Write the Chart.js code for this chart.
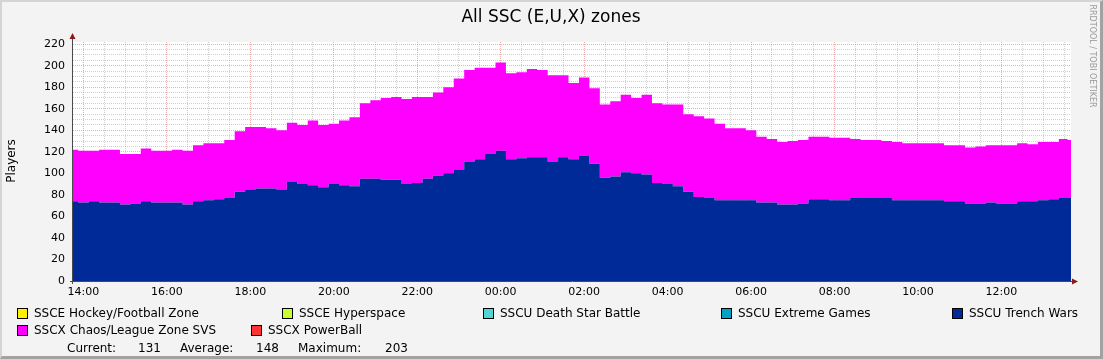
<!DOCTYPE html>
<html>
<head>
<meta charset="utf-8">
<script src="https://cdn.jsdelivr.net/npm/chart.js@4.4.1/dist/chart.umd.min.js"></script>
<style>
    html, body { margin: 0; padding: 0; background: #f3f3f3; }
    #frame { position: relative; width: 1103px; height: 359px; overflow: hidden;
             font-family: 'DejaVu Sans', sans-serif; color: #000; }
    #frame canvas { position: absolute; left: 0; top: 0; }
    #edge { position: absolute; left: 0; top: 0; width: 1103px; height: 359px; box-sizing: border-box;
            border-top: 2px solid #d4d4d4; border-left: 2px solid #d4d4d4;
            border-right: 3px solid #a2a2a2; border-bottom: 3px solid #a2a2a2; pointer-events: none; }
    .txt { position: absolute; white-space: nowrap; font-size: 12px; line-height: 14px; }
    .sw { position: absolute; width: 9px; height: 9px; border: 1px solid #000; }
</style>
</head>
<body>
<div id="frame">
    <canvas id="rrd-chart" width="1103" height="359"></canvas>
    <div class="txt" style="left:351px;width:400px;text-align:center;top:7px;font-size:17px;line-height:19px;">All SSC (E,U,X) zones</div>
    <div class="txt" style="left:-29px;width:80px;text-align:center;top:154px;transform:rotate(-90deg);">Players</div>
    <div class="txt" style="left:1032px;width:120px;text-align:center;top:51px;font-size:8px;line-height:10px;color:#9a9a9a;transform:rotate(90deg);">RRDTOOL / TOBI OETIKER</div>
    <div id="legend"></div>
    <div id="edge"></div>
</div>
<script>
(function(){
    /**
     * Sample times (15 minute steps, last one is the end of the graph).
     * @type {string[]}
     */
    var times = [
        '13:45',
        '14:00','14:15','14:30','14:45','15:00','15:15','15:30','15:45',
        '16:00','16:15','16:30','16:45','17:00','17:15','17:30','17:45',
        '18:00','18:15','18:30','18:45','19:00','19:15','19:30','19:45',
        '20:00','20:15','20:30','20:45','21:00','21:15','21:30','21:45',
        '22:00','22:15','22:30','22:45','23:00','23:15','23:30','23:45',
        '00:00','00:15','00:30','00:45','01:00','01:15','01:30','01:45',
        '02:00','02:15','02:30','02:45','03:00','03:15','03:30','03:45',
        '04:00','04:15','04:30','04:45','05:00','05:15','05:30','05:45',
        '06:00','06:15','06:30','06:45','07:00','07:15','07:30','07:45',
        '08:00','08:15','08:30','08:45','09:00','09:15','09:30','09:45',
        '10:00','10:15','10:30','10:45','11:00','11:15','11:30','11:45',
        '12:00','12:15','12:30','12:45','13:00','13:15','13:30','13:40'
    ];

    /**
     * Players in SSCU Trench Wars.
     * @type {number[]}
     */
    var trenchWars = [
        74,73,74,73,73,71,72,74,73,73,
        73,71,74,75,76,77,83,85,86,86,
        85,92,90,89,87,90,89,88,95,95,
        94,94,90,91,95,98,100,103,111,113,
        118,121,113,114,115,115,111,115,113,116,
        109,96,97,101,100,99,91,90,88,83,
        78,77,75,75,75,75,73,73,71,71,
        72,76,76,75,75,77,77,77,77,75,
        75,75,75,75,74,74,72,72,73,72,
        72,74,74,75,76,77,77
    ];

    /**
     * Players in SSCX Chaos/League Zone SVS (stacked on top of Trench Wars).
     * @type {number[]}
     */
    var chaosLeague = [
        48,48,47,49,49,47,46,49,48,48,
        49,50,52,53,52,54,56,58,57,56,
        55,55,55,60,58,56,60,64,70,73,
        76,77,79,80,76,77,80,85,85,85,
        80,82,80,80,82,81,80,76,71,73,
        70,68,70,72,70,74,74,74,76,72,
        75,74,71,67,67,65,61,59,58,59,
        59,58,58,58,58,55,54,54,53,54,
        53,53,53,53,52,52,52,53,53,54,
        54,54,53,54,53,55,54
    ];

    /**
     * Legend rows, in the order rrdtool prints them.
     */
    var legendNames = [
        ['SSCE Hockey/Football Zone', 'SSCE Hyperspace', 'SSCU Death Star Battle', 'SSCU Extreme Games', 'SSCU Trench Wars'],
        ['SSCX Chaos/League Zone SVS', 'SSCX PowerBall']
    ];
    var summaryLabels = ['Current:', 'Average:', 'Maximum:'];
    var summaryValues = [131, 148, 203];

    var colors = {
        'SSCE Hockey/Football Zone': '#fff000',
        'SSCE Hyperspace': '#c8ff32',
        'SSCU Death Star Battle': '#50d4d4',
        'SSCU Extreme Games': '#00a3c4',
        'SSCU Trench Wars': '#002a97',
        'SSCX Chaos/League Zone SVS': '#ff00ff',
        'SSCX PowerBall': '#ff3333'
    };

    // x positions of the legend columns, one list per row
    var legendX = [[17, 282, 483, 721, 952], [17, 251]];
    var legendY = [308, 325];

    /**
     * Convert "HH:MM" to hours after 14:00.
     */
    function toHours(t, i){
        var p = t.split(':');
        var h = parseInt(p[0], 10) + parseInt(p[1], 10) / 60 - 14;
        if (i > 0 && h < 0) h += 24;
        return h;
    }

    function points(values){
        return values.map(function(v, i){ return {x: toHours(times[i], i), y: v}; });
    }

    function isMultiple(v, step){
        return Math.abs(v / step - Math.round(v / step)) < 1e-6;
    }

    function pad(n){ return (n < 10 ? '0' : '') + n; }

    // html legend
    var legend = document.getElementById('legend');
    legendNames.forEach(function(row, r){
        row.forEach(function(name, c){
            var sw = document.createElement('div');
            sw.className = 'sw';
            sw.style.left = legendX[r][c] + 'px';
            sw.style.top = legendY[r] + 'px';
            sw.style.background = colors[name];
            legend.appendChild(sw);
            var tx = document.createElement('div');
            tx.className = 'txt';
            tx.style.left = (legendX[r][c] + 17) + 'px';
            tx.style.top = (legendY[r] - 2) + 'px';
            tx.textContent = name;
            legend.appendChild(tx);
        });
    });
    var sumLabelX = [67, 180, 298];
    var sumValueRight = [161, 279, 408];
    summaryLabels.forEach(function(label, i){
        var l = document.createElement('div');
        l.className = 'txt';
        l.style.left = sumLabelX[i] + 'px';
        l.style.top = '341px';
        l.textContent = label;
        legend.appendChild(l);
        var v = document.createElement('div');
        v.className = 'txt';
        v.style.left = (sumValueRight[i] - 60) + 'px';
        v.style.width = '60px';
        v.style.textAlign = 'right';
        v.style.top = '341px';
        v.textContent = summaryValues[i];
        legend.appendChild(v);
    });

    /**
     * White canvas behind the graph and the rrdtool style axes with arrows.
     */
    var rrdFrame = {
        id: 'rrdFrame',
        beforeDraw: function(chart){
            var a = chart.chartArea, ctx = chart.ctx;
            ctx.save();
            ctx.fillStyle = '#ffffff';
            ctx.fillRect(a.left, a.top, a.right - a.left, a.bottom - a.top);
            ctx.restore();
        },
        afterDraw: function(chart){
            var a = chart.chartArea, ctx = chart.ctx;
            ctx.save();
            ctx.strokeStyle = '#4a4a4a';
            ctx.lineWidth = 1;
            ctx.beginPath();
            ctx.moveTo(a.left - 0.5, a.bottom + 3);
            ctx.lineTo(a.left - 0.5, a.top - 4);
            ctx.moveTo(a.left - 3, a.bottom + 0.5);
            ctx.lineTo(a.right + 4, a.bottom + 0.5);
            ctx.stroke();
            ctx.fillStyle = '#8b1a1a';
            ctx.beginPath();
            ctx.moveTo(a.left - 3.5, a.top - 3);
            ctx.lineTo(a.left + 2.5, a.top - 3);
            ctx.lineTo(a.left - 0.5, a.top - 9);
            ctx.closePath();
            ctx.fill();
            ctx.beginPath();
            ctx.moveTo(a.right + 1, a.bottom - 2.5);
            ctx.lineTo(a.right + 1, a.bottom + 3.5);
            ctx.lineTo(a.right + 7, a.bottom + 0.5);
            ctx.closePath();
            ctx.fill();
            ctx.restore();
        }
    };

    var MAJOR = 'rgba(222, 110, 110, 0.55)';
    var MINOR = 'rgba(150, 150, 150, 0.45)';

    var ctx = document.getElementById('rrd-chart').getContext('2d');
    new Chart(ctx, {
        type: 'line',
        data: {
            datasets: [{
                label: 'SSCU Trench Wars',
                data: points(trenchWars),
                backgroundColor: colors['SSCU Trench Wars'],
                borderWidth: 0,
                pointRadius: 0,
                stepped: 'middle',
                fill: 'origin'
            }, {
                label: 'SSCX Chaos/League Zone SVS',
                data: points(chaosLeague),
                backgroundColor: colors['SSCX Chaos/League Zone SVS'],
                borderWidth: 0,
                pointRadius: 0,
                stepped: 'middle',
                fill: '-1'
            }]
        },
        options: {
            responsive: false,
            animation: false,
            devicePixelRatio: 1,
            layout: { padding: { top: 42, right: 32, bottom: 58, left: 0 } },
            plugins: { legend: { display: false }, tooltip: { enabled: false } },
            scales: {
                x: {
                    type: 'linear',
                    min: toHours(times[0], 0),
                    max: toHours(times[times.length - 1], times.length - 1),
                    afterFit: function(scale){ scale.height = 20; },
                    border: { display: false, dash: [1, 1] },
                    grid: {
                        drawTicks: false,
                        lineWidth: 1,
                        color: function(c){
                            var v = c.tick.value;
                            if (isMultiple(v, 2)) return MAJOR;
                            if (isMultiple(v, 0.5)) return MINOR;
                            return 'rgba(0,0,0,0)';
                        }
                    },
                    ticks: {
                        stepSize: 0.5,
                        includeBounds: false,
                        autoSkip: false,
                        maxRotation: 0,
                        padding: 5,
                        color: '#000',
                        font: { family: 'DejaVu Sans', size: 11 },
                        callback: function(v){
                            if (!isMultiple(v, 2)) return '';
                            return pad((14 + Math.round(v)) % 24) + ':00';
                        }
                    }
                },
                y: {
                    stacked: true,
                    min: 0,
                    max: 222,
                    afterFit: function(scale){ scale.width = 73; },
                    border: { display: false, dash: [1, 1] },
                    grid: {
                        drawTicks: false,
                        lineWidth: 1,
                        color: function(c){
                            var v = c.tick.value;
                            if (isMultiple(v, 20)) return MAJOR;
                            if (isMultiple(v, 5)) return MINOR;
                            return 'rgba(0,0,0,0)';
                        }
                    },
                    ticks: {
                        stepSize: 5,
                        includeBounds: false,
                        autoSkip: false,
                        padding: 8,
                        color: '#000',
                        font: { family: 'DejaVu Sans', size: 11 },
                        callback: function(v){
                            return (isMultiple(v, 20) && v <= 220) ? String(v) : '';
                        }
                    }
                }
            }
        },
        plugins: [rrdFrame]
    });
})();
</script>
</body>
</html>
